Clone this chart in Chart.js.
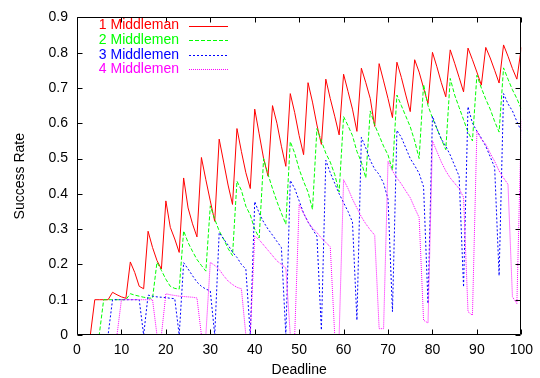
<!DOCTYPE html>
<html><head><meta charset="utf-8">
<script src="https://cdn.jsdelivr.net/npm/chart.js@4.4.1/dist/chart.umd.min.js"></script>
<style>html,body{margin:0;padding:0;background:#fff;}</style>
</head><body>
<canvas id="c" width="540" height="378"></canvas>
<script>
const deadlines = [2,3,4,5,6,7,8,9,10,11,12,13,14,15,16,17,18,19,20,21,22,23,24,25,26,27,28,29,30,31,32,33,34,35,36,37,38,39,40,41,42,43,44,45,46,47,48,49,50,51,52,53,54,55,56,57,58,59,60,61,62,63,64,65,66,67,68,69,70,71,72,73,74,75,76,77,78,79,80,81,82,83,84,85,86,87,88,89,90,91,92,93,94,95,96,97,98,99,100];

const oneMiddleman = [0,0,0.1,0.1,0.1,0.1,0.121,0.114,0.108,0.104,
0.207,0.177,0.138,0.131,0.294,0.248,0.211,0.187,0.38,0.305,0.272,0.234,
0.445,0.36,0.315,0.278,0.503,0.44,0.38,0.322,0.555,0.49,0.425,0.37,
0.585,0.52,0.46,0.415,0.64,0.57,0.5,0.45,0.65,0.6,0.535,0.478,
0.684,0.63,0.565,0.511,0.715,0.66,0.595,0.54,0.725,0.67,0.62,0.567,
0.739,0.69,0.64,0.577,0.756,0.715,0.67,0.591,0.769,0.72,0.67,0.616,
0.773,0.73,0.68,0.633,0.78,0.745,0.7,0.656,0.801,0.76,0.715,0.675,
0.808,0.77,0.73,0.689,0.813,0.78,0.745,0.708,0.815,0.785,0.75,0.714,
0.822,0.79,0.755,0.725,0.815];

const twoMiddlemen = [0,0,0,0,0.1,0.1,0.1,0.1,0.1,0.1,
0.117,0.113,0.11,0.107,0.105,0.104,
0.206,0.183,0.158,0.138,0.132,0.13,
0.295,0.262,0.237,0.214,0.197,0.181,
0.366,0.328,0.295,0.272,0.245,0.225,
0.436,0.41,0.365,0.34,0.3,0.275,
0.5,0.455,0.415,0.378,0.345,0.314,
0.548,0.515,0.47,0.435,0.405,0.356,
0.585,0.55,0.515,0.49,0.455,0.405,
0.619,0.593,0.565,0.52,0.49,0.445,
0.635,0.595,0.565,0.535,0.51,0.467,
0.68,0.65,0.62,0.59,0.55,0.5,
0.71,0.65,0.615,0.585,0.555,0.525,
0.727,0.68,0.645,0.61,0.575,0.55,
0.736,0.7,0.668,0.64,0.605,0.575,
0.757,0.725,0.695,0.67,0.64];

const threeMiddlemen = [0,0,0,0,0,0,0.1,0.1,0.1,0.1,0.1,0.1,0.1,
0,0.113,0.11,0.108,0.107,0.106,0.104,0.103,
0,0.205,0.187,0.168,0.15,0.138,0.13,0.125,
0,0.29,0.272,0.255,0.235,0.22,0.2,0.187,
0,0.378,0.345,0.32,0.3,0.283,0.265,0.248,
0,0.438,0.415,0.38,0.345,0.32,0.3,0.28,
0.014,0.495,0.46,0.43,0.4,0.375,0.35,0.32,
0.042,0.56,0.53,0.495,0.47,0.455,0.43,0.385,
0.066,0.58,0.56,0.53,0.5,0.48,0.458,0.42,
0.089,0.62,0.585,0.555,0.535,0.51,0.48,0.45,
0.136,0.647,0.6,0.578,0.558,0.535,0.505,0.475,
0.168,0.684,0.655,0.635,0.605,0.577];

const fourMiddlemen = [0,0,0,0,0,0,0,0,
0.1,0.1,0.1,0.1,0.1,0.1,0.1,0.1,
0,0,
0.117,0.114,0.112,0.11,0.109,0.108,0.107,0.105,
0,0,
0.206,0.197,0.186,0.168,0.153,0.143,0.135,0.131,
0,0,
0.28,0.27,0.255,0.24,0.225,0.21,0.2,0.19,
0,0,
0.37,0.345,0.32,0.303,0.29,0.275,0.262,0.25,
0,0,
0.44,0.415,0.385,0.36,0.335,0.315,0.298,0.283,
0.018,0.018,
0.492,0.465,0.445,0.428,0.408,0.389,0.36,0.333,
0.042,0.034,
0.55,0.52,0.49,0.465,0.445,0.43,0.415,0.39,
0.066,0.056,
0.578,0.555,0.54,0.515,0.492,0.465,0.445,0.427,
0.108,0.089,
0.61];

const seriesLabels = ['1 Middleman','2 Middlemen','3 Middlemen','4 Middlemen'];
const xTicks = [0,10,20,30,40,50,60,70,80,90,100];
const yTicks = [0,0.1,0.2,0.3,0.4,0.5,0.6,0.7,0.8,0.9];

const FONT = '"Liberation Sans", Arial, Helvetica, sans-serif';
const colors = ['#ff0000','#00ff00','#0000ff','#ff00ff'];
const dashes = [[],[4,2],[2,2],[1,1]];
const seriesValues = [oneMiddleman, twoMiddlemen, threeMiddlemen, fourMiddlemen];

const datasets = seriesValues.map((vals, i) => ({
  label: seriesLabels[i],
  data: deadlines.map((d, j) => ({x: d, y: vals[j]})),
  borderColor: colors[i],
  backgroundColor: colors[i],
  borderWidth: 1,
  borderDash: dashes[i],
  pointRadius: 0,
  tension: 0,
  fill: false,
  order: 4 - i
}));

const framePlugin = {
  id: 'frame',
  afterDraw(chart) {
    const ctx = chart.ctx, a = chart.chartArea, xs = chart.scales.x, ys = chart.scales.y;
    ctx.save();
    ctx.strokeStyle = '#000';
    ctx.lineWidth = 1;
    const L = Math.round(a.left) + 0.5, R = Math.round(a.right) - 0.5;
    const T = Math.round(a.top) + 0.5, B = Math.round(a.bottom) - 0.5;
    ctx.beginPath();
    ctx.rect(L, T, R - L, B - T);
    xTicks.forEach(v => {
      const px = Math.round(xs.getPixelForValue(v)) + 0.5;
      ctx.moveTo(px, B); ctx.lineTo(px, B - 5);
      ctx.moveTo(px, T); ctx.lineTo(px, T + 5);
    });
    yTicks.forEach(v => {
      const py = Math.round(ys.getPixelForValue(v)) + 0.5;
      ctx.moveTo(L, py); ctx.lineTo(L + 5, py);
      ctx.moveTo(R, py); ctx.lineTo(R - 5, py);
    });
    ctx.stroke();

    // legend
    ctx.font = '14px ' + FONT;
    ctx.textBaseline = 'middle';
    ctx.textAlign = 'right';
    chart.data.datasets.forEach((ds, i) => {
      const yy = 25.5 + i * 14.6;
      ctx.fillStyle = ds.borderColor;
      ctx.fillText(ds.label, 179, yy);
      ctx.strokeStyle = ds.borderColor;
      ctx.setLineDash(ds.borderDash);
      ctx.beginPath();
      ctx.moveTo(189, Math.round(yy) + 0.5);
      ctx.lineTo(228, Math.round(yy) + 0.5);
      ctx.stroke();
    });
    ctx.setLineDash([]);

    // axis titles
    ctx.fillStyle = '#000';
    ctx.textAlign = 'center';
    ctx.fillText('Deadline', (a.left + a.right) / 2, 370);
    ctx.translate(20, (a.top + a.bottom) / 2);
    ctx.rotate(-Math.PI / 2);
    ctx.fillText('Success Rate', 0, 0);
    ctx.restore();
  }
};

new Chart(document.getElementById('c'), {
  type: 'line',
  data: { datasets },
  options: {
    responsive: false,
    animation: false,
    events: [],
    layout: { padding: { left: 0, right: 16, top: 14, bottom: 0 } },
    plugins: { legend: { display: false }, tooltip: { enabled: false } },
    scales: {
      x: {
        type: 'linear', min: 0, max: 100,
        afterBuildTicks: s => { s.ticks = xTicks.map(v => ({value: v})); },
        afterFit: s => { s.height = 43; },
        grid: { display: false, drawTicks: false },
        border: { display: false },
        ticks: { padding: 7, color: '#000', font: { size: 14, family: FONT }, maxRotation: 0, autoSkip: false,
          callback: v => String(v) }
      },
      y: {
        type: 'linear', min: 0, max: 0.9,
        afterBuildTicks: s => { s.ticks = yTicks.map(v => ({value: v})); },
        afterFit: s => { s.width = 77; },
        grid: { display: false, drawTicks: false },
        border: { display: false },
        ticks: { padding: 9, color: '#000', font: { size: 14, family: FONT }, autoSkip: false,
          callback: v => String(Math.round(v * 10) / 10) }
      }
    }
  },
  plugins: [framePlugin]
});
</script>
</body></html>
